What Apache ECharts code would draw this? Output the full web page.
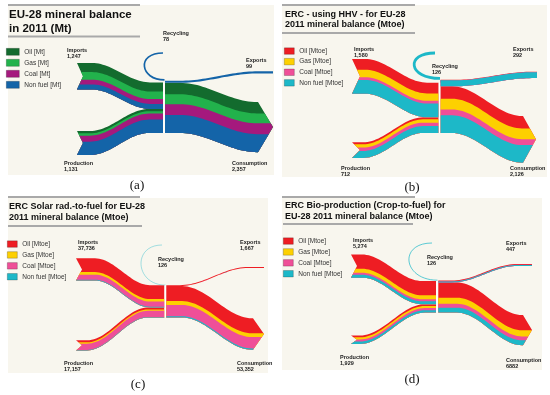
<!DOCTYPE html>
<html><head><meta charset="utf-8">
<script src="https://cdn.jsdelivr.net/npm/echarts@6/dist/echarts.min.js"></script>
<style>html,body{margin:0;padding:0;background:#fff}#c{width:550px;height:395px}</style>
</head><body><div id="c"></div>
<script>
const FONT = '"Liberation Sans", Arial, sans-serif';
const flowNames = ['Imports', 'Production', 'Recycling', 'Exports', 'Consumption'];
const catsMt = ['Oil [Mt]', 'Gas [Mt]', 'Coal [Mt]', 'Non fuel [Mt]'];
const catsMtoe = ['Oil [Mtoe]', 'Gas [Mtoe]', 'Coal [Mtoe]', 'Non fuel [Mtoe]'];

// (a) EU-28 mineral balance 2011 (Mt) — order: Oil, Gas, Coal, Non fuel
const aImports = [427, 355, 228, 237];
const aProduction = [110, 110, 280, 631];
const aRecycling = [0, 0, 0, 78];
const aExports = [0, 0, 0, 99];
const aConsumption = [537, 465, 508, 847];
const aLabels = ['1,247', '1,131', '78', '99', '2,357'];

// (b) ERC using HHV (Mtoe)
const bImports = [490, 340, 120, 630];
const bProduction = [90, 150, 155, 317];
const bRecycling = [0, 0, 0, 126];
const bExports = [15, 0, 7, 270];
const bConsumption = [565, 490, 268, 803];
const bLabels = ['1,580', '712', '126', '292', '2,126'];

// (c) ERC Solar rad.-to-fuel (Mtoe)
const cImports = [23500, 4300, 8700, 1236];
const cProduction = [3500, 2200, 10600, 857];
const cRecycling = [0, 0, 0, 126];
const cExports = [1500, 0, 100, 67];
const cConsumption = [25500, 6500, 19200, 2152];
const cLabels = ['37,736', '17,157', '126', '1,667', '53,352'];

// (d) ERC Bio-production (Crop-to-fuel) (Mtoe)
const dImports = [3250, 910, 455, 659];
const dProduction = [420, 480, 480, 549];
const dRecycling = [0, 0, 0, 126];
const dExports = [180, 0, 40, 227];
const dConsumption = [3490, 1390, 895, 1107];
const dLabels = ['5,274', '1,929', '126', '447', '6882'];

const greenColors = ['#136b2e', '#22b24c', '#a5197d', '#1464a8'];
const warmColors = ['#ee1d23', '#fdd000', '#ef4f98', '#1db8c8'];

const panels = [
  { title: 'EU-28 mineral balance\nin 2011 (Mt)', tl: {left: 9, top: 8, size: 11.5, lh: 14},
    cats: catsMt, colors: greenColors,
    imp: aImports, prod: aProduction, rec: aRecycling, exp: aExports, cons: aConsumption, labels: aLabels,
    grid: {left: 8, top: 5, width: 266, height: 170}, k: 47, hookOpacity: 1,
    legend: {left: 6, top: 48, w: 13, h: 7, gap: 3.4},
    L: { bottom: 133, divX: 164,
      imp: {x0: 77, x1: 92, x2: 150, x3: 163, top0: 63, notch: 6},
      prod: {x0: 77, x1: 90, x2: 149, x3: 163, top0: 131, notch: 6},
      exp: {x0: 165, x1: 180, x2: 258, x3: 273, top1: 71.3},
      cons: {x0: 165, x1: 180, x2: 257, x3: 258, top1: 102, head: 15},
      hook: {x0: 164.5, c1: 140, c2: 136, x3: 163, yEnd: 53} },
    lab: [[67, 50], [64, 163], [163, 33], [246, 60], [232, 163]],
    lines: [[8, 140, 5], [8, 140, 36.5], [8, 140, 197]], tag: ['(a)', 137, 186] },
  { title: 'ERC - using HHV - for EU-28\n2011 mineral balance (Mtoe)', tl: {left: 285, top: 8.8, size: 9, lh: 10.5},
    cats: catsMtoe, colors: warmColors,
    imp: bImports, prod: bProduction, rec: bRecycling, exp: bExports, cons: bConsumption, labels: bLabels,
    grid: {left: 282, top: 5, width: 265, height: 172}, k: 45.5, hookOpacity: 1,
    legend: {left: 284, top: 47.5, w: 10, h: 6.5, gap: 3.5},
    L: { bottom: 133, divX: 439.5,
      imp: {x0: 352, x1: 365, x2: 427, x3: 438.5, top0: 59, notch: 8},
      prod: {x0: 352, x1: 363, x2: 423, x3: 438.5, top0: 142.3, notch: 8},
      exp: {x0: 440.5, x1: 455, x2: 532, x3: 537, top1: 71.7},
      cons: {x0: 440.5, x1: 452, x2: 522, x3: 523, top1: 116, head: 13},
      hook: {x0: 440, c1: 408, c2: 405, x3: 435, yEnd: 53} },
    lab: [[354, 49], [341, 168], [432, 66], [513, 49], [510, 168]],
    lines: [[282, 415, 5], [282, 415, 33], [282, 415, 197]], tag: ['(b)', 412, 188] },
  { title: 'ERC Solar rad.-to-fuel for EU-28\n2011 mineral balance (Mtoe)', tl: {left: 9, top: 201.5, size: 9, lh: 11},
    cats: catsMtoe, colors: warmColors,
    imp: cImports, prod: cProduction, rec: cRecycling, exp: cExports, cons: cConsumption, labels: cLabels,
    grid: {left: 8, top: 198, width: 260, height: 175}, k: 1700, hookOpacity: 0.45,
    legend: {left: 7, top: 240.5, w: 10, h: 6.5, gap: 3.8},
    L: { bottom: 317.5, divX: 165.3,
      imp: {x0: 76, x1: 95, x2: 150, x3: 164.3, top0: 258.3, notch: 6},
      prod: {x0: 76, x1: 87, x2: 148, x3: 164.3, top0: 340.3, notch: 6},
      exp: {x0: 166.3, x1: 180, x2: 248, x3: 264, top1: 267},
      cons: {x0: 166.3, x1: 182, x2: 252, x3: 253, top1: 318.3, head: 11},
      hook: {x0: 165.5, c1: 135, c2: 132, x3: 162, yEnd: 245} },
    lab: [[78, 242], [64, 363], [158, 259], [240, 242], [237, 363]],
    lines: [[8, 142, 226]], tag: ['(c)', 138, 385] },
  { title: 'ERC Bio-production (Crop-to-fuel) for\nEU-28 2011 mineral balance (Mtoe)', tl: {left: 285, top: 200.5, size: 9, lh: 11},
    cats: catsMtoe, colors: warmColors,
    imp: dImports, prod: dProduction, rec: dRecycling, exp: dExports, cons: dConsumption, labels: dLabels,
    grid: {left: 282, top: 198, width: 260, height: 172}, k: 228, hookOpacity: 0.8,
    legend: {left: 283, top: 237.5, w: 10, h: 6.5, gap: 3.8},
    L: { bottom: 312.6, divX: 437,
      imp: {x0: 351, x1: 362, x2: 422, x3: 436, top0: 254.5, notch: 6},
      prod: {x0: 351, x1: 360, x2: 425, x3: 436, top0: 335.5, notch: 6},
      exp: {x0: 438.3, x1: 452, x2: 517, x3: 532, top1: 264},
      cons: {x0: 438.3, x1: 457, x2: 522, x3: 523, top1: 315, head: 9},
      hook: {x0: 437.5, c1: 403, c2: 398, x3: 432, yEnd: 243} },
    lab: [[353, 240], [340, 357], [427, 257], [506, 243], [506, 360]],
    lines: [[283, 413, 224]], tag: ['(d)', 412, 380] }
];

const sum = arr => arr.reduce((s, v) => s + v, 0);

function geom(P, api) {
  const g = P.grid, k = P.k, L = P.L;
  const X = px => px - g.left;
  const Yv = py => (py - g.top) * k;
  const pt = (x, yv) => api.coord([X(x), yv]);
  const bottomV = Yv(L.bottom);
  const impT = sum(P.imp), prodT = sum(P.prod), consT = sum(P.cons), expT = sum(P.exp);
  return { X, Yv, pt, bottomV, impT, prodT, consT, expT,
    leftTopV: bottomV - impT - prodT, rightTopV: bottomV - consT - expT };
}

function makeBandRenderer(P, ci) {
  return function (params, api) {
    const flow = api.value(0);
    const v = api.value(1);
    if (!(v > 0)) return null;
    const L = P.L;
    const G = geom(P, api);
    const pt = G.pt;
    const arr = [P.imp, P.prod, P.rec, P.exp, P.cons][flow];
    const a = sum(arr.slice(0, ci));
    const H = sum(arr);
    const color = api.visual('color');
    if (flow === 2) {
      const h = L.hook;
      const y0 = G.rightTopV - a - v / 2;
      const y3 = G.Yv(h.yEnd);
      const p0 = pt(h.x0, y0), c1 = pt(h.c1, y0), c2 = pt(h.c2, y3), p3 = pt(h.x3, y3);
      const w = Math.max(api.size([0, v])[1], 0.9);
      return { type: 'bezierCurve',
        shape: { x1: p0[0], y1: p0[1], cpx1: c1[0], cpy1: c1[1], cpx2: c2[0], cpy2: c2[1], x2: p3[0], y2: p3[1] },
        style: { stroke: color, fill: null, lineWidth: w, opacity: P.hookOpacity } };
    }
    let f, T0, T1;
    if (flow === 0) { f = L.imp; T0 = G.Yv(f.top0); T1 = G.leftTopV; }
    else if (flow === 1) { f = L.prod; T0 = G.Yv(f.top0); T1 = G.leftTopV + G.impT; }
    else if (flow === 3) { f = L.exp; T0 = G.rightTopV; T1 = G.Yv(f.top1); }
    else { f = L.cons; T0 = G.rightTopV + G.expT; T1 = G.Yv(f.top1); }
    const N = 28, xs = [], ys = [];
    const d = 0.36 * (f.x2 - f.x1);
    for (let j = 0; j <= N; j++) {
      const t = j / N, u = 1 - t;
      xs.push(u*u*u*f.x1 + 3*u*u*t*(f.x1 + d) + 3*u*t*t*(f.x2 - d) + t*t*t*f.x2);
      ys.push(u*u*u*T0 + 3*u*u*t*T0 + 3*u*t*t*T1 + t*t*t*T1);
    }
    // each band is painted from its own top to the flow bottom; later categories paint over it
    const b = H;
    const capS = (s, depth) => depth * (1 - Math.abs(2 * s / H - 1));
    const sx = s => f.notch ? f.x0 + capS(s, f.notch) : f.x0;
    const ex = s => f.head ? f.x3 + capS(s, f.head) : f.x3;
    const pts = [];
    pts.push(pt(sx(a), T0 + a));
    for (let j = 0; j <= N; j++) pts.push(pt(xs[j], ys[j] + a));
    pts.push(pt(ex(a), T1 + a));
    if (f.head && a < H / 2) pts.push(pt(f.x3 + f.head, T1 + H / 2));
    pts.push(pt(ex(b), T1 + b));
    for (let j = N; j >= 0; j--) pts.push(pt(xs[j], ys[j] + b));
    pts.push(pt(sx(b), T0 + b));
    if (f.notch && a < H / 2) pts.push(pt(f.x0 + f.notch, T0 + H / 2));
    return { type: 'polygon', shape: { points: pts }, style: { fill: color } };
  };
}

function makeDividerRenderer(P) {
  return function (params, api) {
    const G = geom(P, api);
    const p1 = G.pt(P.L.divX, G.leftTopV), p2 = G.pt(P.L.divX, G.bottomV);
    return { type: 'line', shape: { x1: p1[0], y1: p1[1], x2: p2[0], y2: p2[1] },
      style: { stroke: '#ffffff', lineWidth: 1.3 } };
  };
}

const grids = [], xAxes = [], yAxes = [], series = [], titles = [], legends = [], graphics = [];
panels.forEach((P, pi) => {
  grids.push({ left: P.grid.left, top: P.grid.top, width: P.grid.width, height: P.grid.height,
    show: true, backgroundColor: '#f8f6ee', borderWidth: 0 });
  xAxes.push({ gridIndex: pi, type: 'value', min: 0, max: P.grid.width, show: false });
  yAxes.push({ gridIndex: pi, type: 'value', min: 0, max: P.grid.height * P.k, inverse: true, show: false });
  P.cats.forEach((name, ci) => {
    const flowsArr = [P.imp, P.prod, P.rec, P.exp, P.cons];
    series.push({ type: 'custom', name, xAxisIndex: pi, yAxisIndex: pi, coordinateSystem: 'cartesian2d',
      itemStyle: { color: P.colors[ci] }, silent: true, clip: false,
      renderItem: makeBandRenderer(P, ci),
      data: flowsArr.map((arr, fi) => [fi, arr[ci]]) });
  });
  series.push({ type: 'custom', name: 'divider' + pi, xAxisIndex: pi, yAxisIndex: pi, silent: true,
    renderItem: makeDividerRenderer(P), data: [[0, 0]] });
  titles.push({ text: P.title, left: P.tl.left, top: P.tl.top, padding: 0,
    textStyle: { fontSize: P.tl.size, fontWeight: 'bold', lineHeight: P.tl.lh, color: '#111', fontFamily: FONT } });
  legends.push({ data: P.cats, orient: 'vertical', left: P.legend.left, top: P.legend.top, padding: 0,
    itemWidth: P.legend.w, itemHeight: P.legend.h, itemGap: P.legend.gap, icon: 'rect', selectedMode: false,
    itemStyle: { borderColor: 'rgba(0,0,0,0.35)', borderWidth: 0.6 },
    textStyle: { fontSize: 6.5, lineHeight: 7, color: '#333', fontFamily: FONT } });
  P.lab.forEach((xy, fi) => {
    graphics.push({ type: 'text', z: 100, x: xy[0], y: xy[1] - 3,
      style: { text: flowNames[fi] + '\n' + P.labels[fi], fill: '#222', fontSize: 5.5, fontWeight: 'bold',
        fontFamily: FONT, lineHeight: 6, verticalAlign: 'top' } });
  });
  P.lines.forEach(l => {
    graphics.push({ type: 'line', z: 100, shape: { x1: l[0], y1: l[2], x2: l[1], y2: l[2] },
      style: { stroke: '#a9a9a9', lineWidth: 2 } });
  });
  graphics.push({ type: 'text', z: 100, x: P.tag[1], y: P.tag[2],
    style: { text: P.tag[0], fill: '#111', fontSize: 13, fontFamily: '"Liberation Serif", "Times New Roman", serif',
      align: 'center', verticalAlign: 'middle' } });
});

const chart = echarts.init(document.getElementById('c'), null, { renderer: 'canvas' });
chart.setOption({
  animation: false,
  backgroundColor: '#ffffff',
  title: titles, legend: legends, grid: grids, xAxis: xAxes, yAxis: yAxes,
  graphic: { elements: graphics },
  series
});
</script></body></html>
